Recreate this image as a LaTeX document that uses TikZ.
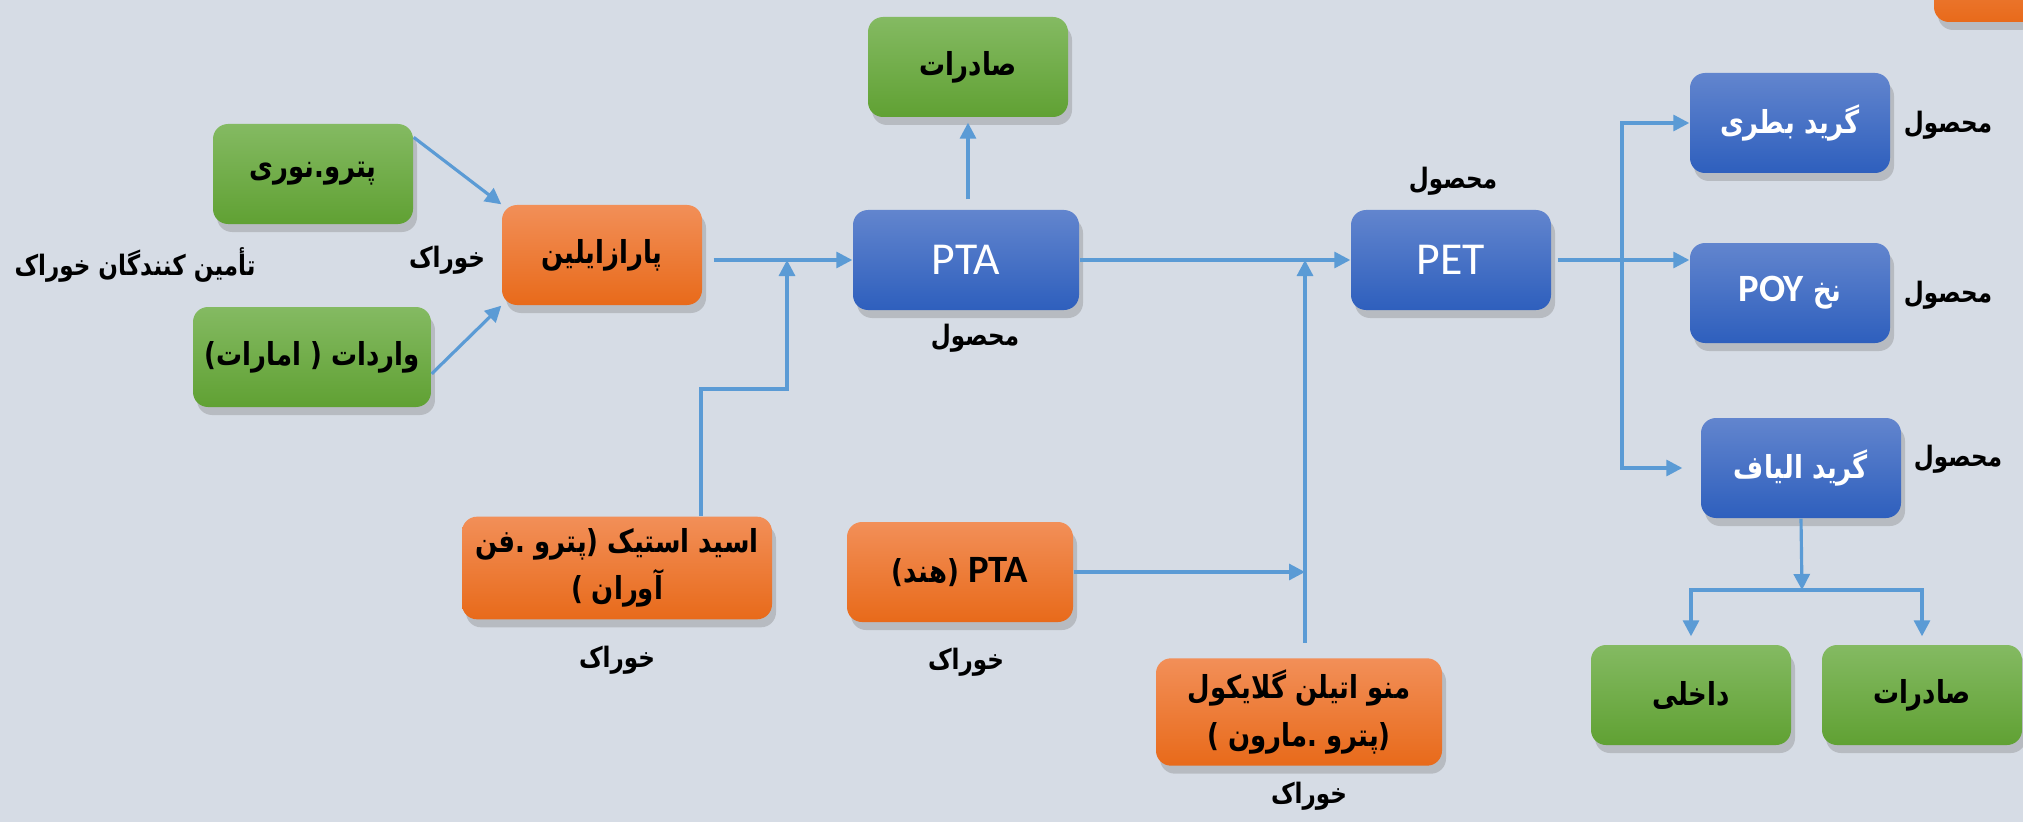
\documentclass[tikz,border=0pt]{standalone}
\usepackage{fontspec}
\setmainfont{Carlito}
\newfontfamily\fa[Script=Arabic, FakeStretch=0.82]{DejaVu Sans}
\newfontfamily\faplain[FakeStretch=0.82]{DejaVu Sans}
\newfontfamily\lat{Carlito}
\TeXXeTstate=1
\usetikzlibrary{arrows.meta,shadows}

\definecolor{bg}{HTML}{D6DCE5}
\definecolor{flowblue}{HTML}{5B9BD5}
\definecolor{greentop}{HTML}{84BA62}
\definecolor{greenbot}{HTML}{60A133}
\definecolor{orangetop}{HTML}{F28F58}
\definecolor{orangebot}{HTML}{E86A1A}
\definecolor{bluetop}{HTML}{6285CE}
\definecolor{bluebot}{HTML}{2E5FBD}

% parentheses as they look inside right-to-left text
\newcommand{\ropen}{\kern0pt{\faplain\bfseries)}\kern0pt}
\newcommand{\rclose}{\kern0pt{\faplain\bfseries(}\kern0pt}

\begin{document}
\begin{tikzpicture}[
  box/.style={rounded corners=1.5mm, minimum width=2cm, minimum height=1cm, align=center,
    font=\fa\bfseries\fontsize{9}{13.5}\selectfont,
    drop shadow={shadow xshift=0.4mm, shadow yshift=-0.8mm, opacity=0.35}},
  greenbox/.style={box, top color=greentop, bottom color=greenbot},
  orangebox/.style={box, top color=orangetop, bottom color=orangebot},
  bluebox/.style={box, top color=bluetop, bottom color=bluebot, text=white},
  bigblue/.style={bluebox, font=\lat\fontsize{13}{15}\selectfont},
  lbl/.style={font=\fa\bfseries\fontsize{8}{10}\selectfont},
  flow/.style={draw=flowblue, line width=0.9pt, -{Triangle[length=1.6mm,width=1.6mm]}},
]
\fill[bg] (0,0) rectangle (20.23,8.22);
\useasboundingbox (0,0) rectangle (20.23,8.22);

% boxes
\node[orangebox, minimum width=1.3cm, minimum height=0.9cm] (corner) at (19.99,8.45) {};
\node[greenbox] (petronori) at (3.13,6.48) {\beginR پترو.نوری\endR};
\node[greenbox, minimum width=2.26cm] (varedat) at (3.12,4.65) {\beginR واردات \ropen{} امارات\rclose\endR};
\node[orangebox] (paraxylene) at (6.02,5.67) {\beginR پارازایلین\endR};
\node[greenbox] (expTop) at (9.68,7.55) {\beginR صادرات\endR};
\node[bigblue, minimum width=2.26cm] (pta) at (9.66,5.62) {PTA};
\node[bigblue] (pet) at (14.51,5.62) {PET};
\node[bluebox] (bottle) at (17.90,6.99) {\beginR گرید بطری\endR};
\node[bluebox] (poy) at (17.90,5.29) {\beginR نخ \beginL{\lat\bfseries\fontsize{11}{13}\selectfont POY}\endL\endR};
\node[bluebox] (fiber) at (18.01,3.54) {\beginR گرید الیاف\endR};
\node[orangebox, minimum width=3.1cm] (acetic) at (6.17,2.54)
  {\beginR اسید استیک \ropen پترو .\kern0pt فن\endR\\\beginR آوران \rclose\endR};
\node[orangebox, minimum width=2.26cm] (ptaHind) at (9.60,2.50)
  {\beginR\beginL{\lat\bfseries\fontsize{11}{13}\selectfont PTA}\endL{} \ropen هند\rclose\endR};
\node[orangebox, minimum width=2.86cm] (meg) at (12.99,1.10)
  {\beginR منو اتیلن گلایکول\endR\\\beginR\ropen پترو .\kern0pt مارون \rclose\endR};
\node[greenbox] (dakheli) at (16.91,1.27) {\beginR داخلی\endR};
\node[greenbox] (expBot) at (19.22,1.27) {\beginR صادرات\endR};

% labels
\node[lbl] (supplyLbl) at (1.35,5.57) {\beginR تأمین کنندگان خوراک\endR};
\node[lbl] (feedPx) at (4.47,5.62) {\beginR خوراک\endR};
\node[lbl] (prodPta) at (9.75,4.84) {\beginR محصول\endR};
\node[lbl] (prodPet) at (14.53,6.41) {\beginR محصول\endR};
\node[lbl] (prodBottle) at (19.48,6.97) {\beginR محصول\endR};
\node[lbl] (prodPoy) at (19.48,5.27) {\beginR محصول\endR};
\node[lbl] (prodFiber) at (19.58,3.63) {\beginR محصول\endR};
\node[lbl] (feedAcetic) at (6.17,1.62) {\beginR خوراک\endR};
\node[lbl] (feedHind) at (9.66,1.60) {\beginR خوراک\endR};
\node[lbl] (feedMeg) at (13.09,0.26) {\beginR خوراک\endR};

% joints
\coordinate (join1) at (7.87,5.62);
\coordinate (bend1) at (7.01,4.33);
\coordinate (join2) at (13.05,5.62);
\coordinate (split) at (16.22,5.62);
\coordinate (split2) at (18.02,2.32);

% connectors
\draw[flow] (petronori.20) -- (paraxylene.north west);
\draw[flow] (varedat.-8) -- (paraxylene.south west);
\draw[flow, shorten <=1.1mm] (paraxylene.east |- pta.west) -- (pta.west);
\draw[flow] (acetic.north -| bend1) -- (bend1) -| (join1);
\draw[flow, shorten <=1mm, shorten >=0.5mm] (pta.north -| expTop.south) -- (expTop.south);
\draw[flow] (pta.east) -- (pet.west);
\draw[flow, shorten <=1.5mm] (meg.north -| join2) -- (join2);
\draw[flow] (ptaHind.east) -- (ptaHind.east -| join2);
\draw[flow, shorten <=0.6mm] (pet.east) -- (pet.east -| poy.west);
\draw[flow] (split) |- (bottle.west);
\draw[flow, shorten >=1.8mm] (split) |- (fiber.west);
\draw[flow] (fiber.south) -- (split2);
\draw[flow, shorten >=0.8mm] (split2) -| (dakheli.north);
\draw[flow, shorten >=0.8mm] (split2) -| (expBot.north);
\end{tikzpicture}
\end{document}
